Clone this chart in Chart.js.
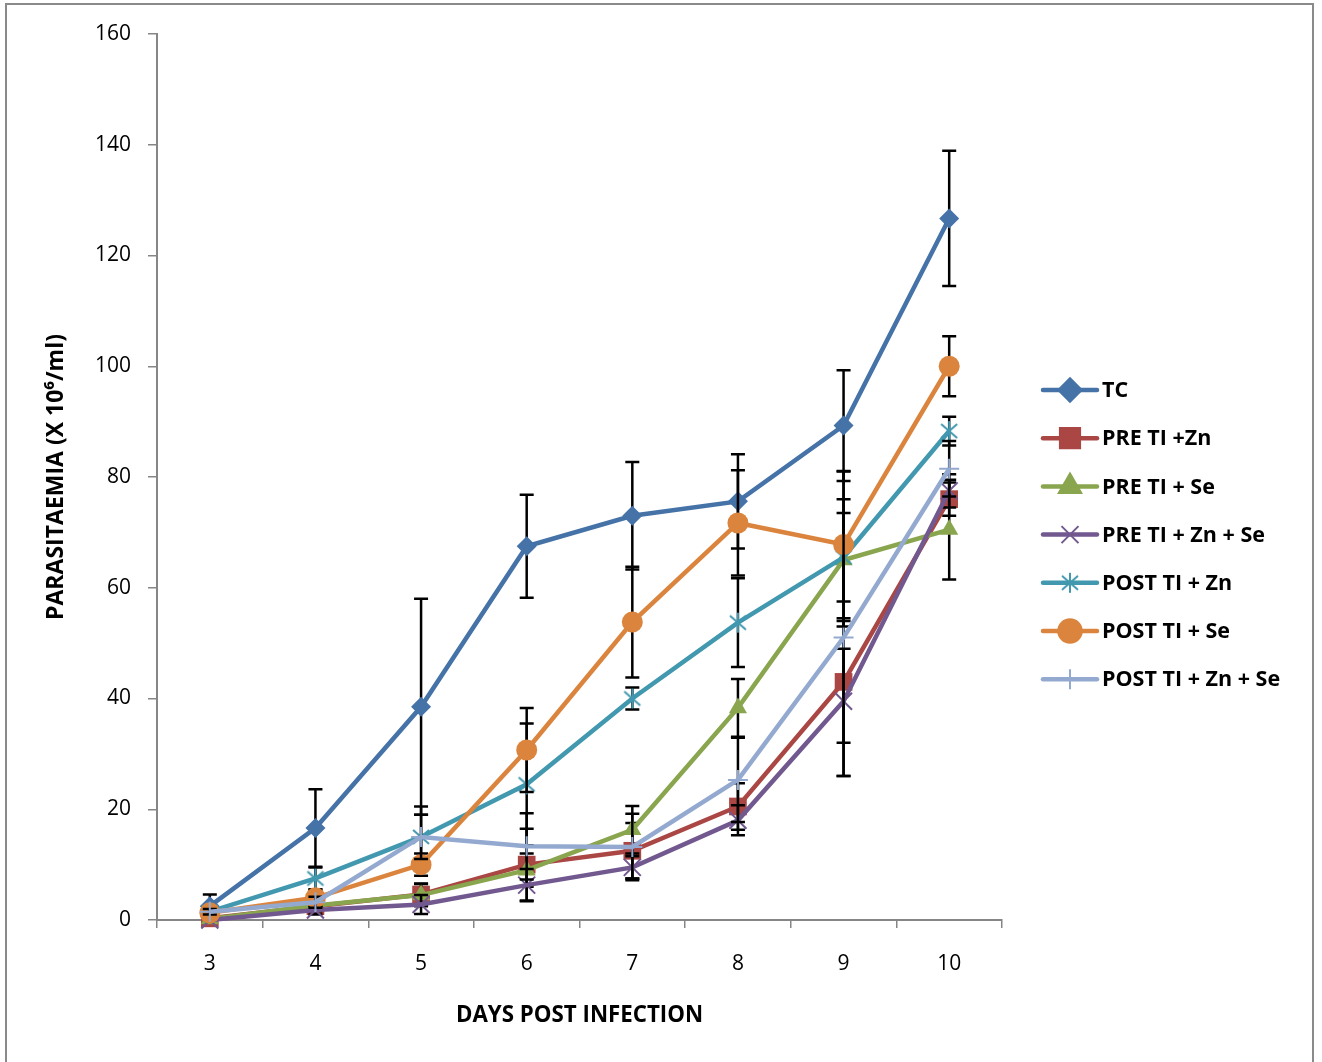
<!DOCTYPE html>
<html>
<head>
<meta charset="utf-8">
<script src="https://cdn.jsdelivr.net/npm/chart.js@4.4.0/dist/chart.umd.min.js"></script>
<style>
  html, body { margin: 0; padding: 0; background: #fff; }
  #wrap { position: absolute; left: 0; top: 0; width: 1322px; height: 1062px; }
  #frame { position: absolute; left: 5px; top: 3px; width: 1309px; height: 1080px; border: 2px solid #8a8a8a; box-sizing: border-box; pointer-events: none; }
  canvas { position: absolute; left: 0; top: 0; }
</style>
</head>
<body>
<div id="wrap">
  <canvas id="c" width="1322" height="1062"></canvas>
  <div id="frame"></div>
</div>
<script>
// ---- data ----
const days = ['3', '4', '5', '6', '7', '8', '9', '10'];
const seriesNames = ['TC', 'PRE TI +Zn', 'PRE TI + Se', 'PRE TI + Zn + Se', 'POST TI + Zn', 'POST TI + Se', 'POST TI + Zn + Se'];

const tc        = [2.5, 16.6, 38.5, 67.5, 73.0, 75.6, 89.3, 126.7];
const preZn     = [0.3, 2.5, 4.6, 10.0, 12.5, 20.5, 43.0, 76.0];
const preSe     = [0.2, 2.6, 4.5, 9.0, 16.3, 38.3, 65.0, 70.5];
const preZnSe   = [0.0, 1.8, 2.8, 6.3, 9.5, 18.0, 39.5, 77.5];
const postZn    = [1.5, 7.5, 15.0, 24.5, 40.0, 53.7, 65.5, 88.3];
const postSe    = [1.3, 4.0, 10.0, 30.7, 53.8, 71.7, 67.8, 100.0];
const postZnSe  = [1.5, 3.2, 15.0, 13.3, 13.2, 25.3, 51.0, 81.5];

const errTc       = [2.1, 7.0, 19.5, 9.3, 9.7, 8.5, 10.0, 12.2];
const errPreZn    = [0.5, 1.0, 2.0, 6.5, 5.0, 4.2, 11.0, 3.0];
const errPreSe    = [0.5, 1.0, 2.0, 3.0, 4.3, 5.2, 16.0, 9.0];
const errPreZnSe  = [0.3, 0.8, 1.7, 2.9, 2.0, 2.7, 13.5, 3.0];
const errPostZn   = [0.5, 2.0, 5.5, 11.0, 2.0, 8.0, 8.0, 2.6];
const errPostSe   = [0.8, 1.5, 2.0, 7.6, 10.0, 9.5, 13.3, 5.4];
const errPostZnSe = [0.5, 1.0, 4.0, 6.0, 6.0, 7.6, 25.0, 5.0];

const yTicks = [0, 20, 40, 60, 80, 100, 120, 140, 160];

const allSeries = [tc, preZn, preSe, preZnSe, postZn, postSe, postZnSe];
const allErrors = [errTc, errPreZn, errPreSe, errPreZnSe, errPostZn, errPostSe, errPostZnSe];
const colors = ['#4572A7', '#AA4643', '#89A54E', '#71588F', '#4198AF', '#DB843D', '#93A9CF'];

// Excel-like asterisk marker (vertical + X)
function makeStar(color) {
  const cv = document.createElement('canvas');
  cv.width = 24; cv.height = 24;
  const g = cv.getContext('2d');
  g.strokeStyle = color; g.lineWidth = 2; g.lineCap = 'butt';
  g.beginPath();
  g.moveTo(12, 2); g.lineTo(12, 22);
  g.moveTo(4, 5); g.lineTo(20, 19);
  g.moveTo(20, 5); g.lineTo(4, 19);
  g.stroke();
  return cv;
}
const starImg = makeStar(colors[4]);

const markers = [
  { style: 'rectRot', r: 10, fill: true },
  { style: 'rect', r: 12.5, fill: true },
  { style: 'triangle', r: 10.5, fill: true },
  { style: 'crossRot', r: 12, fill: false },
  { style: starImg, r: 12, fill: false },
  { style: 'circle', r: 10.5, fill: true },
  { style: 'cross', r: 10, fill: false }
];

const datasets = allSeries.map((d, i) => ({
  label: seriesNames[i],
  data: d,
  borderColor: colors[i],
  backgroundColor: colors[i],
  borderWidth: 4.5,
  pointStyle: markers[i].style,
  pointRadius: markers[i].r,
  pointHoverRadius: markers[i].r,
  pointBorderWidth: markers[i].fill ? 0 : 2,
  pointBackgroundColor: colors[i],
  pointBorderColor: colors[i],
  tension: 0,
  order: -i,
  clip: false
}));

const errorBarPlugin = {
  id: 'errorBars',
  beforeDatasetDraw(chart, args) {
    const i = args.index;
    const errs = allErrors[i];
    const vals = allSeries[i];
    const ys = chart.scales.y;
    const ctx = chart.ctx;
    const area = chart.chartArea;
    ctx.save();
    ctx.beginPath();
    ctx.rect(area.left, area.top - 20, area.right - area.left, area.bottom - area.top + 20);
    ctx.clip();
    ctx.strokeStyle = '#000';
    ctx.lineWidth = 2.5;
    args.meta.data.forEach((pt, j) => {
      const x = pt.x;
      const yt = ys.getPixelForValue(vals[j] + errs[j]);
      const yb = ys.getPixelForValue(vals[j] - errs[j]);
      ctx.beginPath();
      ctx.moveTo(x, yt); ctx.lineTo(x, yb);
      ctx.moveTo(x - 7, yt); ctx.lineTo(x + 7, yt);
      ctx.moveTo(x - 7, yb); ctx.lineTo(x + 7, yb);
      ctx.stroke();
    });
    ctx.restore();
  }
};

const legendPlugin = {
  id: 'sideLegend',
  afterDraw(chart) {
    const ctx = chart.ctx;
    const x0 = 1043, x1 = 1097, tx = 1102, y0 = 390, dy = 48.2;
    ctx.save();
    seriesNames.forEach((name, i) => {
      const y = y0 + dy * i;
      ctx.strokeStyle = colors[i];
      ctx.lineWidth = 4.5;
      ctx.lineCap = 'round';
      ctx.beginPath(); ctx.moveTo(x0, y); ctx.lineTo(x1, y); ctx.stroke();
      ctx.lineCap = 'butt';
      ctx.fillStyle = colors[i];
      ctx.strokeStyle = colors[i];
      ctx.lineWidth = markers[i].fill ? 0 : 2;
      Chart.helpers.drawPoint(ctx, { pointStyle: markers[i].style, radius: markers[i].r, rotation: 0, borderWidth: ctx.lineWidth }, (x0 + x1) / 2, y);
      ctx.fillStyle = '#000';
      ctx.font = 'bold 21.5px "Open Sans"';
      ctx.textBaseline = 'middle';
      ctx.textAlign = 'left';
      ctx.fillText(name, tx, y + 1);
    });
    ctx.restore();
  }
};

const whiteBg = {
  id: 'whiteBg',
  beforeDraw(chart) {
    const ctx = chart.ctx;
    ctx.save(); ctx.fillStyle = '#fff'; ctx.fillRect(0, 0, chart.width, chart.height); ctx.restore();
  }
};

new Chart(document.getElementById('c'), {
  type: 'line',
  data: { labels: days, datasets },
  plugins: [whiteBg, errorBarPlugin, legendPlugin],
  options: {
    responsive: false,
    animation: false,
    events: [],
    layout: { padding: { left: 0, top: 34, right: 320, bottom: 0 } },
    plugins: { legend: { display: false }, tooltip: { enabled: false } },
    scales: {
      x: {
        type: 'category',
        offset: true,
        grid: { display: true, drawOnChartArea: false, drawTicks: true, tickLength: 8, offset: true, color: '#868686', lineWidth: 1.5 },
        border: { display: true, color: '#868686', width: 2 },
        ticks: { color: '#000', font: { family: 'Open Sans', size: 21 }, padding: 23 },
        title: { display: true, text: 'DAYS POST INFECTION', color: '#000', font: { family: 'Open Sans', size: 22.3, weight: 'bold' }, padding: { top: 0, bottom: 33 } },
        afterFit(s) { s.height = 142; }
      },
      y: {
        min: 0, max: 160,
        afterBuildTicks(s) { s.ticks = yTicks.map(v => ({ value: v })); },
        grid: { display: true, drawOnChartArea: false, drawTicks: true, tickLength: 9, color: '#868686', lineWidth: 1.5 },
        border: { display: true, color: '#868686', width: 2 },
        ticks: { color: '#000', font: { family: 'Open Sans', size: 21 }, padding: 17 },
        title: { display: true, text: 'PARASITAEMIA (X 10⁶/ml)', color: '#000', font: { family: 'Open Sans', size: 23, weight: 'bold' }, padding: { top: 43, bottom: 0 } },
        afterFit(s) { s.width = 157; }
      }
    }
  }
});
</script>
</body>
</html>
